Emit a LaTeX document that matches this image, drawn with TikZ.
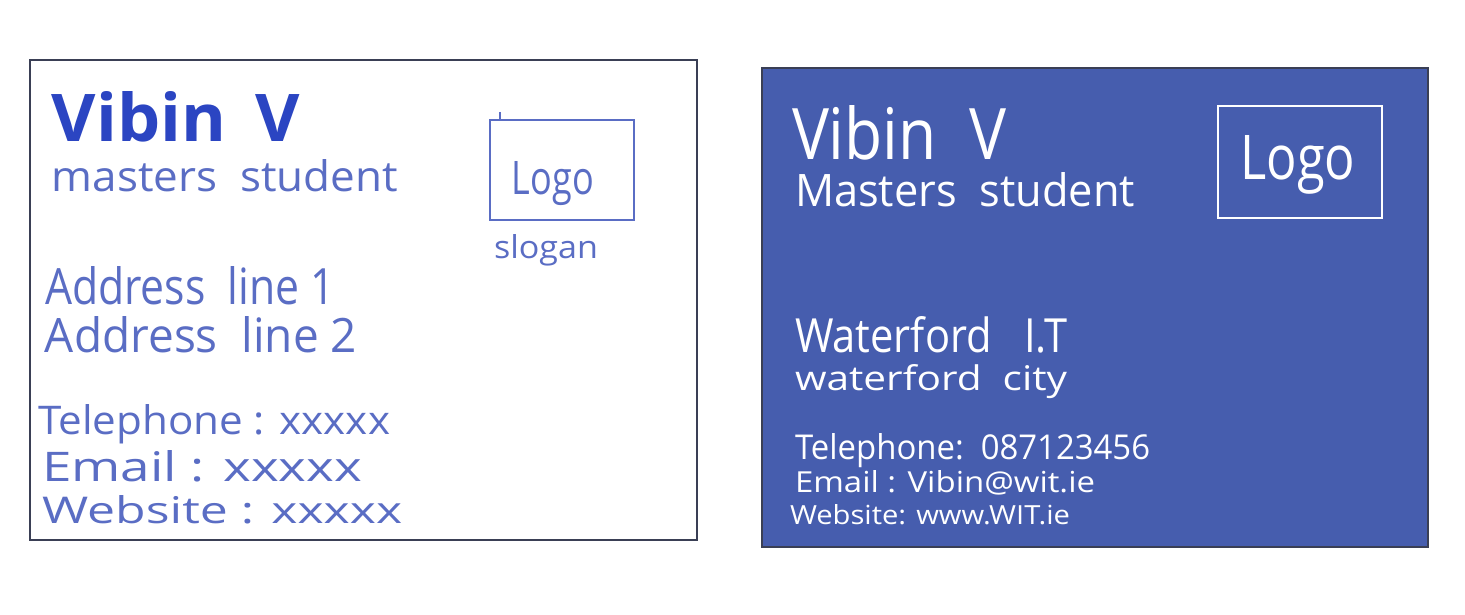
\documentclass[tikz,border=0pt]{standalone}
\usepackage{fontspec}
\setmainfont{Open Sans}
\usepackage{graphicx}
\definecolor{inkdark}{HTML}{2B45C2}
\definecolor{inklight}{HTML}{5A6DC4}
\definecolor{cardblue}{HTML}{465DAE}
\definecolor{cardedge}{HTML}{3A3F55}
% width and height (above the baseline) in pt
\newcommand{\fitwh}[3]{\resizebox{#1pt}{#2pt}{#3}}
\begin{document}
\begin{tikzpicture}[x=1pt,y=-1pt,
  txt/.style={anchor=base west,inner sep=0pt,outer sep=0pt},
  lefttxt/.style={txt,text=inklight},
  righttxt/.style={txt,text=white},
  card/.style={draw=cardedge,line width=1.6pt},
  logobox/.style={line width=1.4pt}]
\useasboundingbox[fill=white] (0,0) rectangle (1465,615);
% left card
\draw[card,fill=white] (30,60) rectangle (697,540);
\node[txt,text=inkdark] (lname) at (52,142) {\fitwh{248}{50}{\bfseries Vibin\, V}};
\node[lefttxt] (lrole) at (52,192) {\fitwh{346}{32}{masters\ \ student}};
\draw[logobox,draw=inklight] (490,120) rectangle (634,220);
\draw[logobox,draw=inklight] (500,112) -- (500,120);
\node[txt,text=inklight,anchor=base] (llogo) at (553,195) {\fitwh{82}{33}{Logo}};
\node[lefttxt] (lslogan) at (494,258) {\fitwh{104}{24}{slogan}};
\node[lefttxt] (laddr1) at (45,304) {\fitwh{290}{38}{Address\ \ line 1}};
\node[lefttxt] (laddr2) at (45,352) {\fitwh{312}{36}{Address\ \ line 2}};
\node[lefttxt] (ltel) at (38,434) {\fitwh{352}{30}{Telephone : xxxxx}};
\node[lefttxt] (lmail) at (42,481) {\fitwh{320}{31}{Email : xxxxx}};
\node[lefttxt] (lweb) at (42,523) {\fitwh{360}{28}{Website : xxxxx}};
% right card
\draw[card,fill=cardblue] (762,68) rectangle (1428,547);
\node[righttxt] (rname) at (792,160) {\fitwh{214}{54}{Vibin\ \ V}};
\node[righttxt] (rrole) at (795,206) {\fitwh{340}{34}{Masters\ \ student}};
\draw[logobox,draw=white] (1218,106) rectangle (1382,218);
\node[txt,text=white,anchor=base] (rlogo) at (1298,180) {\fitwh{115}{44}{Logo}};
\node[righttxt] (rinst) at (795,352) {\fitwh{272}{36}{Waterford\ \ \ I.T}};
\node[righttxt] (rcity) at (795,390) {\fitwh{272}{26}{waterford\ \ city}};
\node[righttxt] (rtel) at (795,459) {\fitwh{355}{26}{Telephone:\ \ 087123456}};
\node[righttxt] (rmail) at (795,492) {\fitwh{300}{22}{Email : Vibin@wit.ie}};
\node[righttxt] (rweb) at (790,524) {\fitwh{280}{20}{Website: www.WIT.ie}};
\end{tikzpicture}
\end{document}
